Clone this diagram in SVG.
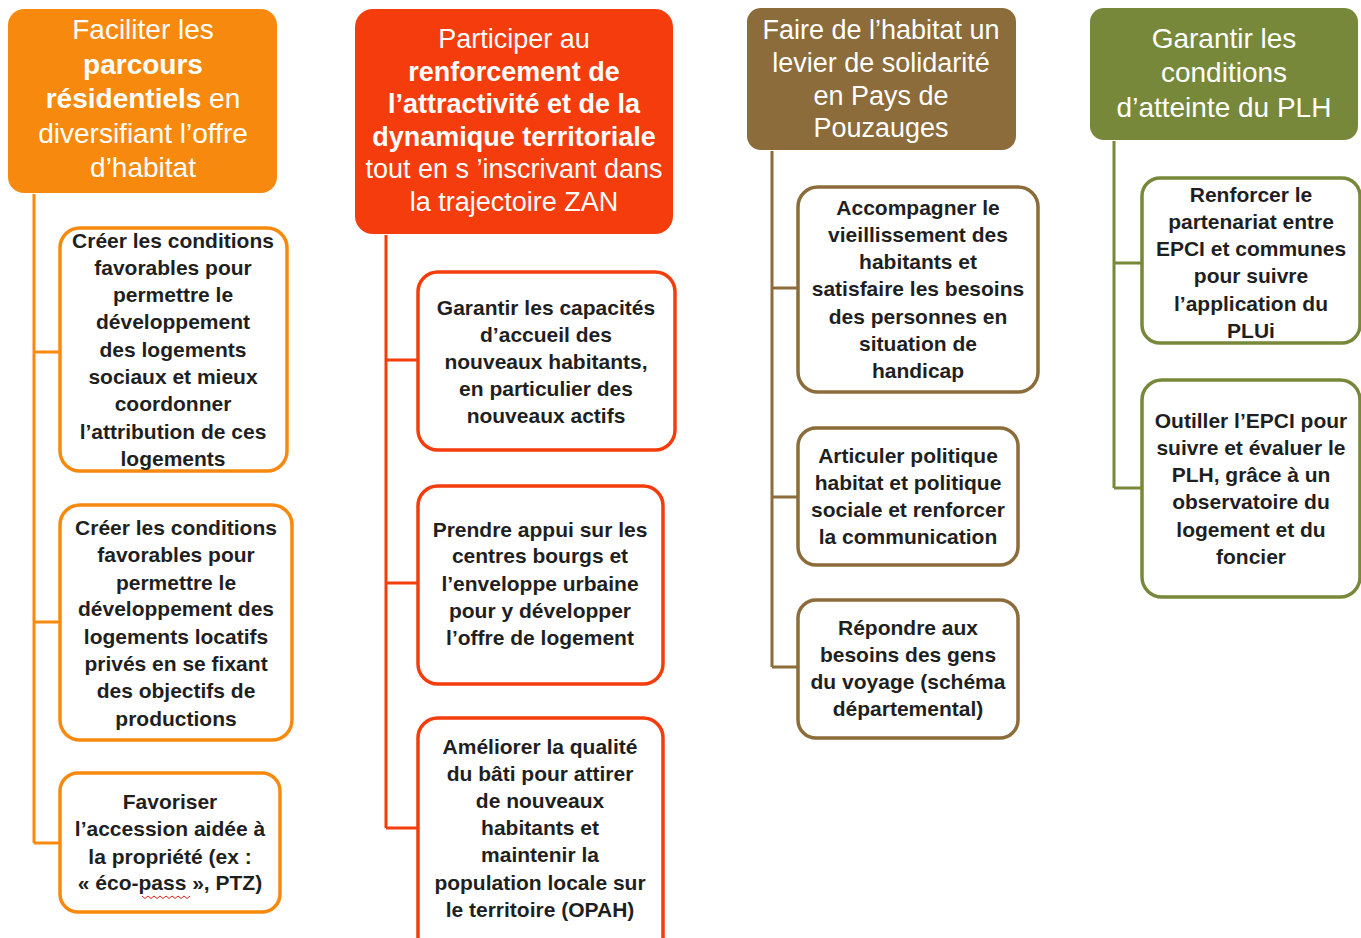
<svg xmlns="http://www.w3.org/2000/svg" width="1361" height="938" viewBox="0 0 1361 938">
<style>
.hd{font-family:"Liberation Sans",Arial,sans-serif;font-size:27px;fill:#fff;text-anchor:middle}
.b{font-weight:bold}
.ch{font-family:"Liberation Sans",Arial,sans-serif;font-size:21px;font-weight:bold;fill:#1f1f1f;text-anchor:middle}
.box{fill:#fff;stroke-width:3.5}
.cn{fill:none;stroke-width:3}
.o{stroke:#F78A0E}.r{stroke:#F53C0C}.br{stroke:#8B6C3A}.g{stroke:#77883A}
</style>
<rect width="1361" height="938" fill="#fff"/>
<g id="connectors">
<path class="cn o" d="M34 194V843M34 352H60M34 622H60M34 843H60"/>
<path class="cn r" d="M386 235V828M386 360H417M386 583H417M386 828H417"/>
<path class="cn br" d="M772 151V667M772 288H798M772 497H798M772 667H798"/>
<path class="cn g" d="M1114 141V488M1114 263H1142M1114 488H1142"/>
</g>
<g id="h1">
<rect x="8" y="9" width="269" height="184" rx="16" fill="#F78A0E"/>
<text class="hd" x="143" style="font-size:28px"><tspan x="143" y="39">Faciliter les</tspan><tspan x="143" y="74" class="b">parcours</tspan><tspan x="143" y="108"><tspan class="b">résidentiels</tspan> en</tspan><tspan x="143" y="143">diversifiant l’offre</tspan><tspan x="143" y="177">d’habitat</tspan></text>
</g>
<g id="o1">
<rect class="box o" x="60" y="228" width="227" height="243" rx="20"/>
<text class="ch"><tspan x="173" y="248">Créer les conditions</tspan><tspan x="173" y="275">favorables pour</tspan><tspan x="173" y="302">permettre le</tspan><tspan x="173" y="329">développement</tspan><tspan x="173" y="357">des logements</tspan><tspan x="173" y="384">sociaux et mieux</tspan><tspan x="173" y="411">coordonner</tspan><tspan x="173" y="439">l’attribution de ces</tspan><tspan x="173" y="466">logements</tspan></text>
</g>
<g id="o2">
<rect class="box o" x="60" y="505" width="232" height="235" rx="20"/>
<text class="ch"><tspan x="176" y="535">Créer les conditions</tspan><tspan x="176" y="562">favorables pour</tspan><tspan x="176" y="590">permettre le</tspan><tspan x="176" y="616">développement  des</tspan><tspan x="176" y="644">logements locatifs</tspan><tspan x="176" y="671">privés en se fixant</tspan><tspan x="176" y="698">des objectifs de</tspan><tspan x="176" y="726">productions</tspan></text>
</g>
<g id="o3">
<rect class="box o" x="60" y="773" width="220" height="139" rx="18"/>
<text class="ch"><tspan x="170" y="809">Favoriser</tspan><tspan x="170" y="836">l’accession aidée à</tspan><tspan x="170" y="864">la propriété (ex :</tspan><tspan x="170" y="890">« éco-pass », PTZ)</tspan></text>
<path d="M142 896l3 2.5 3-2.5 3 2.5 3-2.5 3 2.5 3-2.5 3 2.5 3-2.5 3 2.5 3-2.5 3 2.5 3-2.5 3 2.5 3-2.5 3 2.5 3-2.5" fill="none" stroke="#e02020" stroke-width="1"/>
</g>
<g id="h2">
<rect x="355" y="9" width="318" height="225" rx="18" fill="#F53C0C"/>
<text class="hd"><tspan x="514" y="48">Participer au</tspan><tspan x="514" y="81" class="b">renforcement de</tspan><tspan x="514" y="113" class="b">l’attractivité et de la</tspan><tspan x="514" y="146" class="b">dynamique territoriale</tspan><tspan x="514" y="178">tout en s ’inscrivant dans</tspan><tspan x="514" y="211">la trajectoire ZAN</tspan></text>
</g>
<g id="r1">
<rect class="box r" x="418" y="272" width="257" height="178" rx="20"/>
<text class="ch"><tspan x="546" y="315">Garantir les capacités</tspan><tspan x="546" y="342">d’accueil des</tspan><tspan x="546" y="369">nouveaux habitants,</tspan><tspan x="546" y="396">en particulier des</tspan><tspan x="546" y="423">nouveaux actifs</tspan></text>
</g>
<g id="r2">
<rect class="box r" x="418" y="486" width="245" height="198" rx="20"/>
<text class="ch"><tspan x="540" y="537">Prendre appui sur les</tspan><tspan x="540" y="563">centres bourgs et</tspan><tspan x="540" y="591">l’enveloppe urbaine</tspan><tspan x="540" y="618">pour y développer</tspan><tspan x="540" y="645">l’offre de logement</tspan></text>
</g>
<g id="r3">
<rect class="box r" x="418" y="718" width="245" height="240" rx="20"/>
<text class="ch"><tspan x="540" y="754">Améliorer la qualité</tspan><tspan x="540" y="781">du bâti pour attirer</tspan><tspan x="540" y="808">de nouveaux</tspan><tspan x="540" y="835">habitants et</tspan><tspan x="540" y="862">maintenir la</tspan><tspan x="540" y="890">population locale sur</tspan><tspan x="540" y="917">le territoire (OPAH)</tspan></text>
</g>
<g id="h3">
<rect x="747" y="8" width="269" height="142" rx="14" fill="#8B6C3A"/>
<text class="hd"><tspan x="881" y="39">Faire de l’habitat un</tspan><tspan x="881" y="72">levier de solidarité</tspan><tspan x="881" y="105">en Pays de</tspan><tspan x="881" y="137">Pouzauges</tspan></text>
</g>
<g id="b1">
<rect class="box br" x="798" y="187" width="240" height="205" rx="20"/>
<text class="ch"><tspan x="918" y="215">Accompagner le</tspan><tspan x="918" y="242">vieillissement des</tspan><tspan x="918" y="269">habitants et</tspan><tspan x="918" y="296">satisfaire les besoins</tspan><tspan x="918" y="324">des personnes en</tspan><tspan x="918" y="351">situation de</tspan><tspan x="918" y="378">handicap</tspan></text>
</g>
<g id="b2">
<rect class="box br" x="798" y="428" width="220" height="137" rx="18"/>
<text class="ch"><tspan x="908" y="463">Articuler politique</tspan><tspan x="908" y="490">habitat et politique</tspan><tspan x="908" y="517">sociale et renforcer</tspan><tspan x="908" y="544">la communication</tspan></text>
</g>
<g id="b3">
<rect class="box br" x="798" y="600" width="220" height="138" rx="18"/>
<text class="ch"><tspan x="908" y="635">Répondre aux</tspan><tspan x="908" y="662">besoins des gens</tspan><tspan x="908" y="689">du voyage (schéma</tspan><tspan x="908" y="716">départemental)</tspan></text>
</g>
<g id="h4">
<rect x="1090" y="8" width="268" height="132" rx="14" fill="#77883A"/>
<text class="hd" style="font-size:28px"><tspan x="1224" y="48">Garantir les</tspan><tspan x="1224" y="82">conditions</tspan><tspan x="1224" y="117">d’atteinte du PLH</tspan></text>
</g>
<g id="g1">
<rect class="box g" x="1142" y="178" width="218" height="165" rx="18"/>
<text class="ch"><tspan x="1251" y="202">Renforcer le</tspan><tspan x="1251" y="229">partenariat entre</tspan><tspan x="1251" y="256">EPCI et communes</tspan><tspan x="1251" y="283">pour suivre</tspan><tspan x="1251" y="311">l’application du</tspan><tspan x="1251" y="338">PLUi</tspan></text>
</g>
<g id="g2">
<rect class="box g" x="1142" y="380" width="218" height="217" rx="20"/>
<text class="ch"><tspan x="1251" y="428">Outiller l’EPCI pour</tspan><tspan x="1251" y="455">suivre et évaluer le</tspan><tspan x="1251" y="482">PLH, grâce à un</tspan><tspan x="1251" y="509">observatoire du</tspan><tspan x="1251" y="537">logement et du</tspan><tspan x="1251" y="564">foncier</tspan></text>
</g>
</svg>
